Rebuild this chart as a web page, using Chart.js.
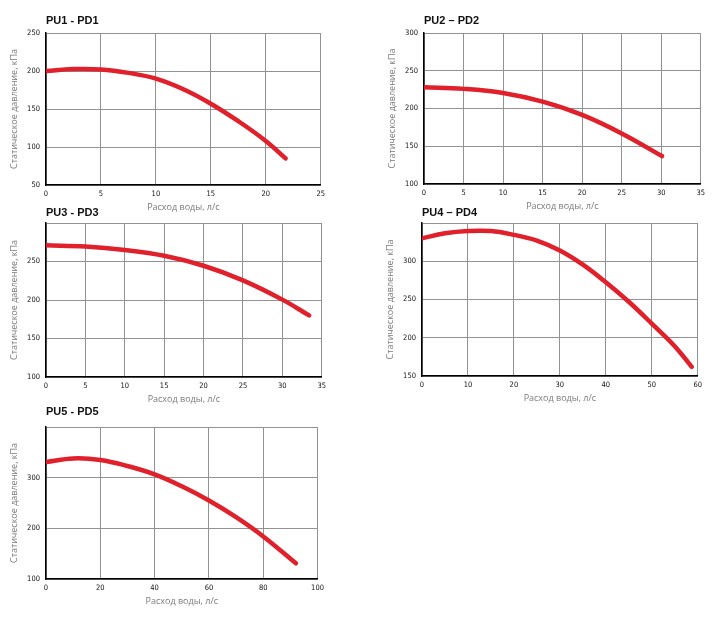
<!DOCTYPE html>
<html>
<head>
<meta charset="utf-8">
<script src="https://cdn.jsdelivr.net/npm/chart.js@4.4.1/dist/chart.umd.min.js"></script>
<style>
  html, body { margin: 0; padding: 0; background: #fff; }
  body { width: 715px; height: 623px; position: relative; overflow: hidden; }
  canvas { position: absolute; }
</style>
</head>
<body>
<canvas id="c1"></canvas>
<canvas id="c2"></canvas>
<canvas id="c3"></canvas>
<canvas id="c4"></canvas>
<canvas id="c5"></canvas>
<script>
// pump curves: flow (л/с) vs static pressure (кПа)
const titles = ['PU1 - PD1', 'PU2 – PD2', 'PU3 - PD3', 'PU4 – PD4', 'PU5 - PD5'];

const flow1 = [0, 2.5, 5, 7.5, 10, 12.5, 15, 17.5, 20, 21.8];
const pres1 = [200, 202.5, 202, 197.5, 190, 176, 157, 134, 108, 85];

const flow2 = [0, 5, 10, 15, 20, 25, 30.1];
const pres2 = [228, 226, 220.5, 209, 191.5, 167, 137];

const flow3 = [0, 5, 10, 15, 20, 25, 30, 33.4];
const pres3 = [271, 269.5, 265, 257.5, 244.5, 225.5, 200.5, 180];

const flow4 = [0, 5, 10, 15, 20, 25, 30, 35, 40, 45, 50, 55, 58.7];
const pres4 = [330, 336.5, 339.5, 339.5, 334.5, 327, 314, 295.5, 272.5, 247, 218.5, 189, 162];

const flow5 = [0, 10, 20, 30, 40, 50, 60, 70, 80, 92];
const pres5 = [331, 338, 335, 323, 306.5, 283, 255, 222, 184, 131];

// axis ranges [min, max, step]
const xRanges = [[0, 25, 5], [0, 35, 5], [0, 35, 5], [0, 60, 10], [0, 100, 20]];
const yRanges = [[50, 250, 50], [100, 300, 50], [100, 300, 50], [150, 350, 50], [100, 400, 100]];
const hideTopTick = [false, false, true, true, true];

const xTitle = 'Расход воды, л/с';
const yTitle = 'Статическое давление, кПа';

// plot boxes on the page: left, top, right, bottom, title offset
const boxes = [
  [46, 33, 322, 185, 9],
  [424, 33, 702, 184, 9],
  [46, 223, 323, 377, 7],
  [422, 223, 699, 376, 7],
  [46, 427, 321, 579, 12]
];

const flows = [flow1, flow2, flow3, flow4, flow5];
const press = [pres1, pres2, pres3, pres4, pres5];

const PADL = 44, PADT = 24, PADR = 8, PADB = 32;
const tickFont = { family: '"Liberation Sans Narrow", "DejaVu Sans Condensed", "Liberation Sans", sans-serif', size: 7.5 };

const titlePlugin = {
  id: 'cornerTitle',
  afterDraw(chart, args, opts) {
    const ctx = chart.ctx;
    ctx.save();
    ctx.font = 'bold 11px "Liberation Sans", Arial, sans-serif';
    ctx.fillStyle = '#111';
    ctx.textBaseline = 'alphabetic';
    ctx.fillText(opts.text, chart.chartArea.left, chart.chartArea.top - opts.offset);
    ctx.restore();
  }
};

boxes.forEach((b, i) => {
  const [L, T, R, B, tOff] = b;
  const cv = document.getElementById('c' + (i + 1));
  const w = R - L + PADL + PADR;
  const h = B - T + PADT + PADB;
  cv.style.left = (L - PADL) + 'px';
  cv.style.top = (T - PADT) + 'px';
  cv.style.width = w + 'px';
  cv.style.height = h + 'px';
  cv.width = w;
  cv.height = h;

  const pts = flows[i].map((x, k) => ({ x: x, y: press[i][k] }));
  const [xmin, xmax, xstep] = xRanges[i];
  const [ymin, ymax, ystep] = yRanges[i];

  new Chart(cv, {
    type: 'line',
    data: {
      datasets: [{
        data: pts,
        borderColor: '#e0202a',
        borderWidth: 4.5,
        borderCapStyle: 'round',
        pointRadius: 0,
        tension: 0.4,
        fill: false
      }]
    },
    plugins: [titlePlugin],
    options: {
      responsive: false,
      animation: false,
      devicePixelRatio: 1,
      layout: { padding: { top: PADT, right: PADR, left: 0, bottom: 0 } },
      plugins: {
        legend: { display: false },
        tooltip: { enabled: false },
        cornerTitle: { text: titles[i], offset: tOff }
      },
      scales: {
        x: {
          type: 'linear',
          min: xmin, max: xmax,
          afterFit(s) { s.height = PADB; },
          ticks: {
            stepSize: xstep,
            padding: 5,
            color: '#111',
            font: tickFont,
            maxRotation: 0
          },
          grid: { color: '#929292', lineWidth: 1, drawTicks: false },
          border: { color: '#000', width: 1.5 },
          title: {
            display: true,
            text: xTitle,
            color: '#7a7a7a',
            padding: { top: 0, bottom: 4 },
            font: { family: '"Open Sans", "Liberation Sans", sans-serif', size: 9 }
          }
        },
        y: {
          min: ymin, max: ymax,
          afterFit(s) { s.width = PADL; },
          ticks: {
            stepSize: ystep,
            padding: 6,
            color: '#111',
            font: tickFont,
            callback: (v) => (hideTopTick[i] && v === ymax) ? '' : v
          },
          grid: { color: '#929292', lineWidth: 1, drawTicks: false },
          border: { color: '#000', width: 1.5 },
          title: {
            display: true,
            text: yTitle,
            color: '#7a7a7a',
            padding: { top: 7, bottom: 0 },
            font: { family: '"Open Sans", "Liberation Sans", sans-serif', size: 9 }
          }
        }
      }
    }
  });
});
</script>
</body>
</html>
